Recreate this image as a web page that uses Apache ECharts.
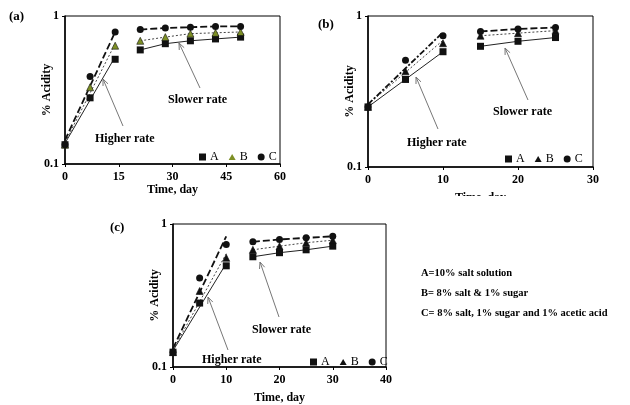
<!DOCTYPE html>
<html>
<head>
<meta charset="utf-8">
<script src="https://cdn.jsdelivr.net/npm/echarts@6/dist/echarts.min.js"></script>
<style>html,body{margin:0;background:#fff}#chart{width:630px;height:405px}</style>
</head>
<body>
<div id="chart"></div>
<script>
// panel (a) - days and % acidity
var aDays = [0, 7, 14, 21, 28, 35, 42, 49];
var aA = [0.135, 0.28, 0.51, 0.59, 0.65, 0.68, 0.70, 0.72];
var aB = [0.135, 0.33, 0.63, 0.68, 0.72, 0.76, 0.77, 0.78];
var aC = [0.135, 0.39, 0.78, 0.81, 0.83, 0.84, 0.85, 0.85];
var aFitDays = [0, 14];
var aFitA = [0.138, 0.53];
var aFitB = [0.14, 0.65];
var aFitC = [0.145, 0.78];

// panel (b)
var bDays = [0, 5, 10, 15, 20, 25];
var bA = [0.25, 0.38, 0.58, 0.63, 0.68, 0.72];
var bB = [0.25, 0.43, 0.66, 0.74, 0.77, 0.80];
var bC = [0.25, 0.51, 0.74, 0.79, 0.82, 0.84];
var bFitDays = [0, 10];
var bFitA = [0.25, 0.58];
var bFitB = [0.26, 0.69];
var bFitC = [0.26, 0.78];

// panel (c)
var cDays = [0, 5, 10, 15, 20, 25, 30];
var cA = [0.127, 0.28, 0.51, 0.59, 0.63, 0.66, 0.70];
var cB = [0.127, 0.34, 0.58, 0.66, 0.70, 0.74, 0.77];
var cC = [0.127, 0.42, 0.72, 0.75, 0.78, 0.80, 0.82];
var cFitDays = [0, 10];
var cFitA = [0.13, 0.53];
var cFitB = [0.132, 0.62];
var cFitC = [0.135, 0.82];

var earlyCount = 3; // first points belong to the fast phase

var groups = ['A', 'B', 'C'];
var symbols = {A: 'rect', B: 'triangle', C: 'circle'};
var legendIcons = {A: 'rect', B: 'path://M4,0L8,7L0,7Z', C: 'circle'};
var lineStyles = {
  A: {type: 'solid', width: 1, color: '#222'},
  B: {type: [2, 2], width: 1, color: '#444'},
  C: {type: [7, 3], width: 1.8, color: '#111'}
};
var serif = '"Liberation Serif", "DejaVu Serif", serif';

var panels = [
  {key: 'a', days: aDays, vals: {A: aA, B: aB, C: aC}, fitDays: aFitDays, fit: {A: aFitA, B: aFitB, C: aFitC},
   grid: {left: 65, top: 16, width: 215, height: 148}, max: 60, step: 15, nameGap: 20,
   legend: {left: 194, top: 146}, bColor: '#7d8f25'},
  {key: 'b', days: bDays, vals: {A: bA, B: bB, C: bC}, fitDays: bFitDays, fit: {A: bFitA, B: bFitB, C: bFitC},
   grid: {left: 368, top: 16, width: 225, height: 151}, max: 30, step: 10, nameGap: 25,
   legend: {left: 500, top: 148}, bColor: '#111'},
  {key: 'c', days: cDays, vals: {A: cA, B: cB, C: cC}, fitDays: cFitDays, fit: {A: cFitA, B: cFitB, C: cFitC},
   grid: {left: 173, top: 224, width: 213, height: 150}, max: 40, step: 10, nameGap: 25,
   legend: {left: 305, top: 351}, bColor: '#111'}
];

var grids = [], xAxes = [], yAxes = [], series = [], legends = [];

panels.forEach(function (p, i) {
  grids.push(Object.assign({show: true, borderColor: '#000', borderWidth: 1}, p.grid));
  xAxes.push({
    type: 'value', gridIndex: i, min: 0, max: p.max, interval: p.step,
    name: p.key === 'b' ? 'Time. day' : 'Time, day', nameLocation: 'middle', nameGap: p.nameGap,
    nameMoveOverlap: false,
    nameTextStyle: {fontFamily: serif, fontWeight: 'bold', fontSize: 12, color: '#000'},
    axisLine: {lineStyle: {color: '#000', width: 1.5}},
    axisTick: {show: true, length: 3, lineStyle: {color: '#000'}},
    axisLabel: {fontFamily: serif, fontWeight: 'bold', fontSize: 12, color: '#000', margin: 7},
    splitLine: {show: false}
  });
  yAxes.push({
    type: 'log', logBase: 10, gridIndex: i, min: 0.1, max: 1,
    name: '% Acidity', nameLocation: 'middle', nameGap: 12, nameRotate: 90,
    nameMoveOverlap: false,
    nameTextStyle: {fontFamily: serif, fontWeight: 'bold', fontSize: 12, color: '#000'},
    axisLine: {show: true, onZero: false, lineStyle: {color: '#000', width: 1.5}},
    axisTick: {show: true, length: 3, lineStyle: {color: '#000'}},
    axisLabel: {fontFamily: serif, fontWeight: 'bold', fontSize: 12, color: '#000', margin: 6,
      formatter: function (v) { return v >= 1 ? '1' : '0.1'; }},
    splitLine: {show: false}
  });

  groups.forEach(function (g) {
    var pts = p.days.map(function (d, k) { return [d, p.vals[g][k]]; });
    var style = Object.assign({}, lineStyles[g]);
    if (p.key === 'b' && g === 'C') style.type = [6, 2, 2, 2];
    // early-phase fitted line
    series.push({
      type: 'line', xAxisIndex: i, yAxisIndex: i, showSymbol: false, silent: true, z: 2,
      data: p.fitDays.map(function (d, k) { return [d, p.fit[g][k]]; }),
      lineStyle: style
    });
    // late-phase line
    series.push({
      type: 'line', xAxisIndex: i, yAxisIndex: i, showSymbol: false, silent: true, z: 2,
      data: pts.slice(earlyCount),
      lineStyle: Object.assign({}, lineStyles[g])
    });
    var col = g === 'B' ? p.bColor : '#111';
    series.push({
      name: p.key + ':' + g, type: 'scatter', xAxisIndex: i, yAxisIndex: i, z: 5,
      symbol: symbols[g], symbolSize: 7,
      itemStyle: {color: col, borderColor: '#111', borderWidth: g === 'B' ? 0.6 : 0, opacity: 1},
      data: pts
    });
  });

  legends.push({
    left: p.legend.left, top: p.legend.top, orient: 'horizontal',
    itemWidth: 7, itemHeight: 7, itemGap: 10, selectedMode: false,
    data: groups.map(function (g) {
      return {name: p.key + ':' + g, icon: legendIcons[g], itemStyle: {borderWidth: 0}};
    }),
    formatter: function (n) { return n.split(':')[1]; },
    textStyle: {fontFamily: serif, fontSize: 12, color: '#000', padding: [0, 0, 0, -1]}
  });
});

function arrow(x1, y1, x2, y2) {
  var ang = Math.atan2(y2 - y1, x2 - x1), len = 7, spread = 0.4;
  var s = {stroke: '#777', lineWidth: 1, fill: null};
  return [
    {type: 'line', shape: {x1: x1, y1: y1, x2: x2, y2: y2}, style: s, z: 10},
    {type: 'polyline', shape: {points: [
      [x2 - len * Math.cos(ang - spread), y2 - len * Math.sin(ang - spread)],
      [x2, y2],
      [x2 - len * Math.cos(ang + spread), y2 - len * Math.sin(ang + spread)]
    ]}, style: s, z: 10}
  ];
}

function label(txt, x, y, size, align) {
  return {type: 'text', left: x, top: y, z: 10,
    style: {text: txt, font: 'bold ' + (size || 12) + 'px ' + serif, fill: '#000', textAlign: align || 'left'}};
}

var graphics = [
  label('(a)', 9, 10, 13), label('(b)', 318, 18, 13), label('(c)', 110, 221, 13),
  label('Higher rate', 95, 133), label('Slower rate', 168, 94),
  label('Higher rate', 407, 137), label('Slower rate', 493, 106),
  label('Higher rate', 202, 354), label('Slower rate', 252, 324),
  label('A=10% salt solution', 421, 268, 10.5),
  label('B= 8% salt & 1% sugar', 421, 288, 10.5),
  label('C= 8% salt, 1% sugar and 1% acetic acid', 421, 308, 10.5),
  // trim the cut-off axis title of panel (b)
  {type: 'rect', shape: {x: 330, y: 196, width: 300, height: 12}, style: {fill: '#fff'}, z: 20}
]
  .concat(arrow(123, 126, 103, 79)).concat(arrow(200, 88, 179, 43))
  .concat(arrow(438, 129, 416, 77)).concat(arrow(528, 100, 505, 48))
  .concat(arrow(228, 350, 208, 297)).concat(arrow(279, 317, 260, 262));

var myChart = echarts.init(document.getElementById('chart'));
myChart.setOption({
  animation: false,
  backgroundColor: '#fff',
  grid: grids,
  xAxis: xAxes,
  yAxis: yAxes,
  legend: legends,
  graphic: graphics,
  series: series
});
</script>
</body>
</html>
